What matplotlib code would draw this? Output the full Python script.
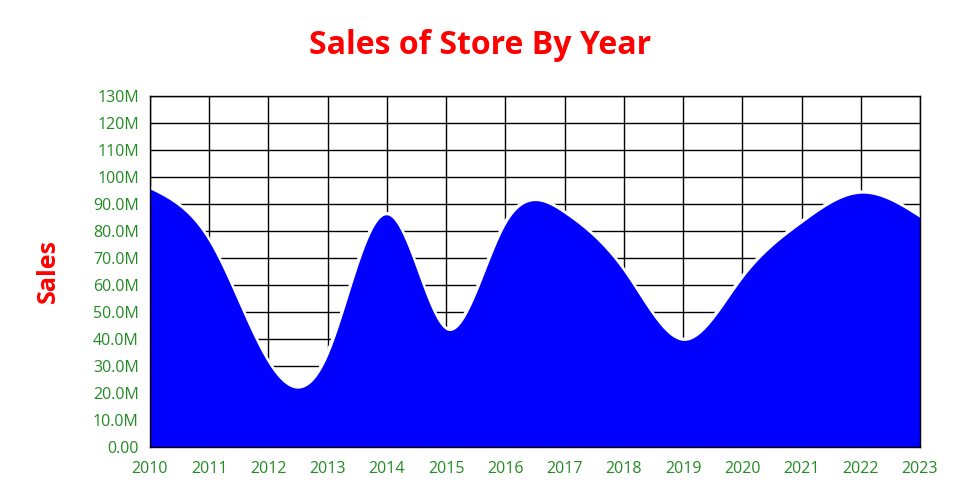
import numpy as np
import matplotlib
matplotlib.use('Agg')
from matplotlib import pyplot as plt
from matplotlib.ticker import FuncFormatter

years = [2010, 2011, 2012, 2013, 2014, 2015, 2016, 2017, 2018, 2019, 2020, 2021, 2022, 2023]
sales_m = [95.6, 76.0, 31.0, 34.0, 86.0, 43.5, 82.5, 86.5, 65.0, 39.5, 62.5, 83.0, 94.0, 85.0]


def natural_spline(x, y, xs):
    x = np.asarray(x, float)
    y = np.asarray(y, float)
    n = len(x)
    h = np.diff(x)
    A = np.zeros((n, n))
    b = np.zeros(n)
    A[0, 0] = A[-1, -1] = 1
    for i in range(1, n - 1):
        A[i, i - 1] = h[i - 1]
        A[i, i] = 2 * (h[i - 1] + h[i])
        A[i, i + 1] = h[i]
        b[i] = 6 * ((y[i + 1] - y[i]) / h[i] - (y[i] - y[i - 1]) / h[i - 1])
    M = np.linalg.solve(A, b)
    idx = np.clip(np.searchsorted(x, xs) - 1, 0, n - 2)
    x0, x1 = x[idx], x[idx + 1]
    hh = x1 - x0
    t0, t1 = x1 - xs, xs - x0
    return (M[idx] * t0 ** 3 / (6 * hh) + M[idx + 1] * t1 ** 3 / (6 * hh)
            + (y[idx] / hh - M[idx] * hh / 6) * t0 + (y[idx + 1] / hh - M[idx + 1] * hh / 6) * t1)


xs = np.linspace(years[0], years[-1], 1000)
ys = natural_spline(years, sales_m, xs) * 1e6

plt.rcParams['font.family'] = ['Open Sans', 'DejaVu Sans']
fig = plt.figure(figsize=(9.6, 5), dpi=100)
ax = fig.add_axes([150 / 960, 1 - 447 / 500, 770 / 960, 351 / 500])

ax.grid(True, color='black', linewidth=1, zorder=0)
ax.plot(xs, ys, color='white', linewidth=4, zorder=2, solid_capstyle='butt')
ax.fill_between(xs, 0, ys, color='#0000ff', linewidth=0, zorder=3)

ax.set_xlim(years[0], years[-1])
ax.set_ylim(0, 130e6)
ax.set_xticks(years)
ax.set_yticks(np.arange(0, 131e6, 10e6))


def fmt(v, pos):
    m = v / 1e6
    if m == 0:
        return '0.00'
    if m >= 100:
        return f'{m:.0f}M'
    return f'{m:.1f}M'


ax.yaxis.set_major_formatter(FuncFormatter(fmt))
ax.tick_params(axis='both', length=0, labelcolor='#228b22', labelsize=11.5, pad=8)
ax.tick_params(axis='x', pad=10)
for s in ax.spines.values():
    s.set_color('black')
    s.set_linewidth(1)
    s.set_zorder(4)
ax.set_axisbelow(True)

fig.text(0.5, 1 - 45 / 500, 'Sales of Store By Year', color='red', fontsize=23,
         fontweight='bold', ha='center', va='center')
fig.text(48 / 960, 1 - 271 / 500, 'Sales', color='red', fontsize=18, fontweight='bold',
         rotation=90, ha='center', va='center')

fig.savefig('out.png', dpi=100)
